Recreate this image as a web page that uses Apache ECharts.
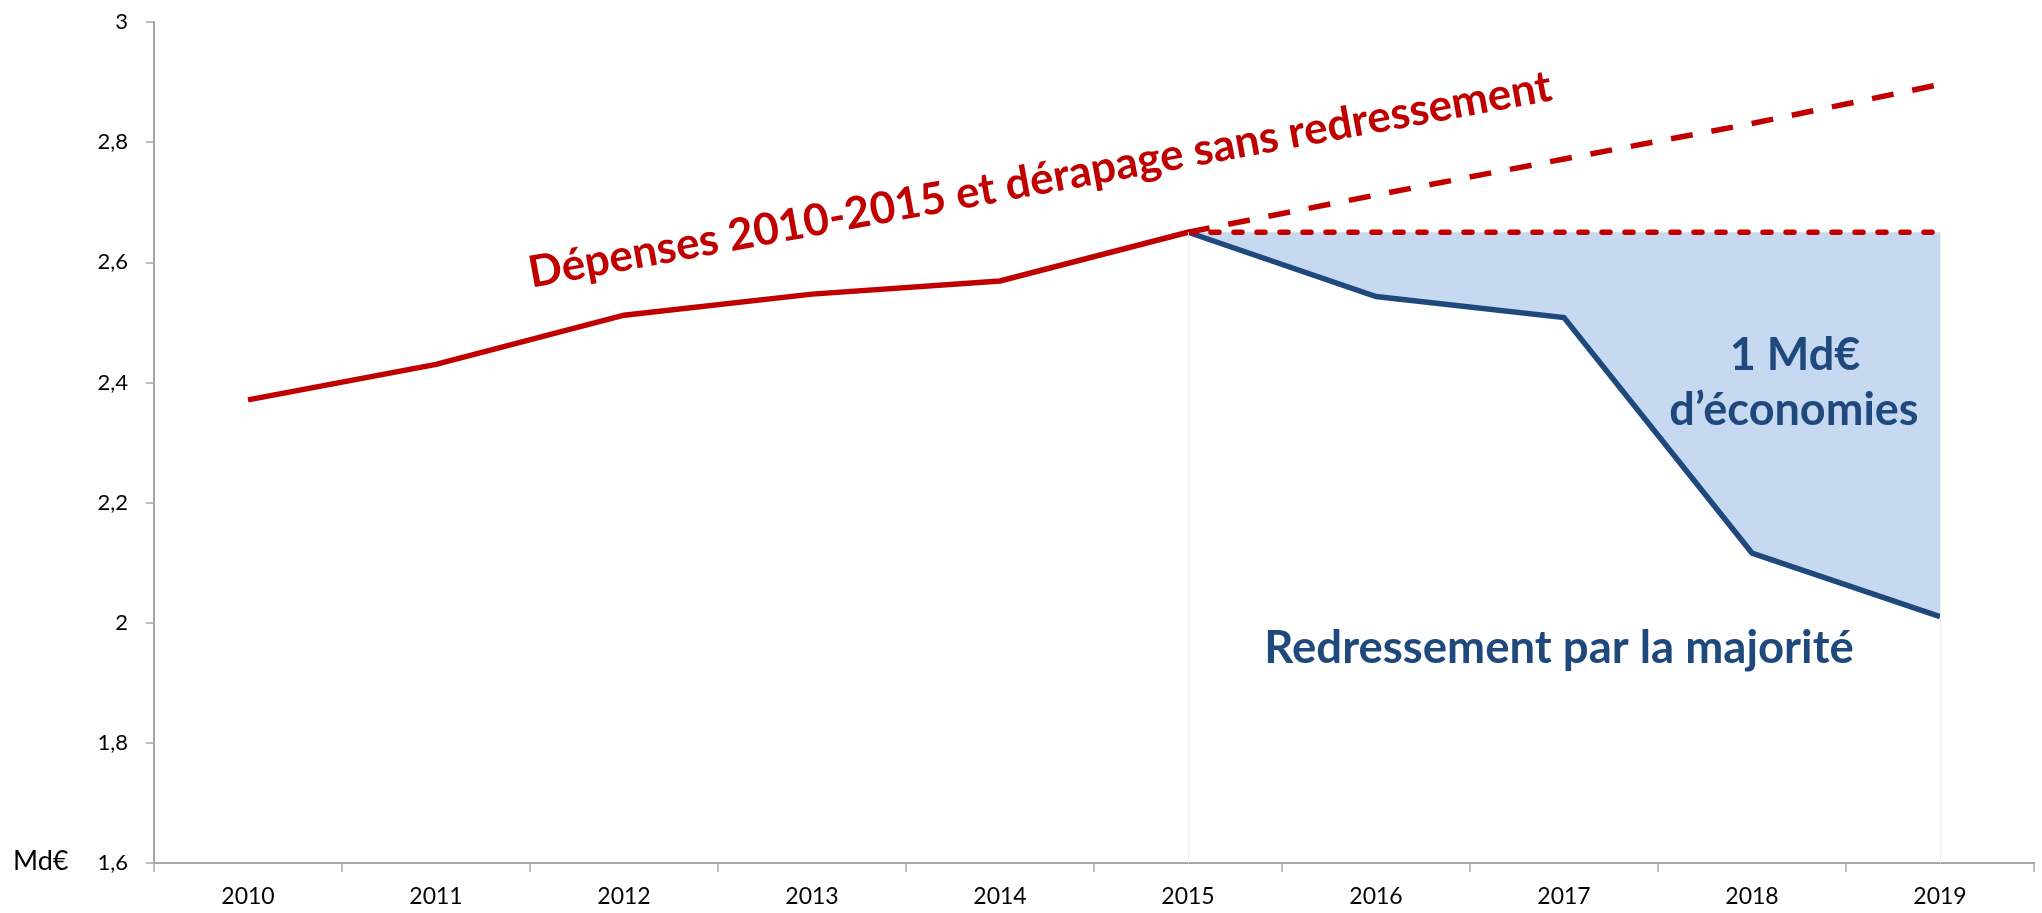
<!DOCTYPE html>
<html>
<head>
<meta charset="utf-8">
<script src="https://cdn.jsdelivr.net/npm/echarts@6/dist/echarts.min.js"></script>
<style>
html,body{margin:0;padding:0;background:#fff;}
#chart{width:2042px;height:913px;}
</style>
</head>
<body>
<div id="chart"></div>
<script>
// ---- data ----
const years = ['2010','2011','2012','2013','2014','2015','2016','2017','2018','2019'];
const depenses = [2.371, 2.430, 2.512, 2.547, 2.569, 2.650, null, null, null, null];
const derapage = [null, null, null, null, null, 2.650, 2.712, 2.772, 2.831, 2.896];
const plafond = [null, null, null, null, null, 2.650, 2.650, 2.650, 2.650, 2.650];
const redressement = [null, null, null, null, null, 2.650, 2.543, 2.508, 2.116, 2.010];
const yTicks = { min: 1.6, max: 3, interval: 0.2 };
const labels = {
  depenses: 'Dépenses 2010-2015 et dérapage sans redressement',
  economies1: '1 Md€',
  economies2: 'd’économies',
  redressement: 'Redressement par la majorité',
  unit: 'Md€'
};

// derived: band between the flat level and the corrected spending
const gap = redressement.map((v, i) => (v == null || plafond[i] == null) ? null : +(plafond[i] - v).toFixed(3));

const RED = '#C00000';
const BLUE = '#1F497D';
const FILL = '#C6D9F1';
const AXIS = '#A6A6A6';
const CAL = 'Lato, "Open Sans", sans-serif';

const chart = echarts.init(document.getElementById('chart'));
chart.setOption({
  animation: false,
  backgroundColor: '#fff',
  grid: { left: 154, right: 8, top: 22, bottom: 50, containLabel: false },
  xAxis: {
    type: 'category',
    data: years,
    boundaryGap: true,
    axisLine: { lineStyle: { color: AXIS, width: 2 } },
    axisTick: { show: true, length: 9, interval: 0, lineStyle: { color: AXIS, width: 1.5 } },
    axisLabel: { color: '#000', fontFamily: CAL, fontSize: 23, margin: 22 },
    splitLine: { show: false }
  },
  yAxis: {
    type: 'value',
    min: yTicks.min, max: yTicks.max, interval: yTicks.interval,
    axisLine: { show: true, lineStyle: { color: AXIS, width: 2 } },
    axisTick: { show: true, length: 8, lineStyle: { color: AXIS, width: 1.5 } },
    axisLabel: {
      color: '#000', fontFamily: CAL, fontSize: 22, margin: 26,
      formatter: v => String(Math.round(v * 10) / 10).replace('.', ',')
    },
    splitLine: { show: false }
  },
  series: [
    {
      name: 'base', type: 'line', data: redressement, stack: 'band',
      symbol: 'none', lineStyle: { opacity: 0 }, silent: true, z: 1
    },
    {
      name: 'économies', type: 'line', data: gap, stack: 'band',
      symbol: 'none', lineStyle: { opacity: 0 }, areaStyle: { color: FILL, opacity: 1 }, silent: true, z: 1,
      markLine: {
        silent: true, symbol: 'none', label: { show: false },
        lineStyle: { color: '#EFEFEF', width: 1, type: 'solid' },
        data: [
          [{ coord: ['2015', yTicks.min] }, { coord: ['2015', plafond[5]] }],
          [{ coord: ['2019', yTicks.min] }, { coord: ['2019', plafond[9]] }]
        ]
      }
    },
    {
      name: 'Redressement', type: 'line', data: redressement, symbol: 'none',
      lineStyle: { color: BLUE, width: 5.5, join: 'miter' }, z: 3
    },
    {
      name: 'Dépenses', type: 'line', data: depenses, symbol: 'none',
      lineStyle: { color: RED, width: 5.5, join: 'miter' }, z: 4
    },
    {
      name: 'Dérapage', type: 'line', data: derapage, symbol: 'none',
      lineStyle: { color: RED, width: 5.5, type: [22, 19] }, z: 4
    },
    {
      name: 'Plafond', type: 'line', data: plafond, symbol: 'none',
      lineStyle: { color: RED, width: 5.5, type: [8, 15], cap: 'round' }, z: 4
    }
  ],
  graphic: [
    {
      type: 'text', x: 1040, y: 180, rotation: 10.4 * Math.PI / 180,
      style: { text: labels.depenses, fill: RED, font: 'bold 44px ' + CAL, align: 'center', verticalAlign: 'middle' }, z: 10
    },
    {
      type: 'text', x: 1795, y: 355,
      style: { text: labels.economies1, fill: BLUE, font: 'bold 45px ' + CAL, align: 'center', verticalAlign: 'middle' }, z: 10
    },
    {
      type: 'text', x: 1794, y: 410,
      style: { text: labels.economies2, fill: BLUE, font: 'bold 45px ' + CAL, align: 'center', verticalAlign: 'middle' }, z: 10
    },
    {
      type: 'text', x: 1559, y: 648,
      style: { text: labels.redressement, fill: BLUE, font: 'bold 45.5px ' + CAL, align: 'center', verticalAlign: 'middle' }, z: 10
    },
    {
      type: 'text', x: 13, y: 861,
      style: { text: labels.unit, fill: '#000', font: '27px ' + CAL, align: 'left', verticalAlign: 'middle' }, z: 10
    }
  ]
});
</script>
</body>
</html>
